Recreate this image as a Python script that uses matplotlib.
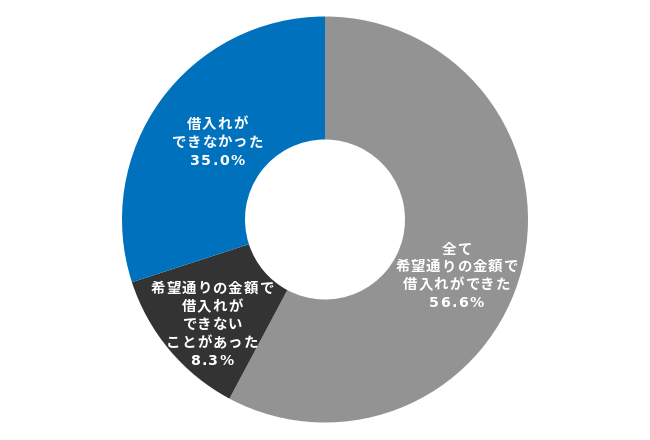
import matplotlib
matplotlib.use("Agg")
import matplotlib.pyplot as plt
from matplotlib.font_manager import FontProperties, findfont, get_font

# wedge shares as drawn in the picture (clockwise from 12 o'clock)
categories = ["全て希望通りの金額で借入れができた", "希望通りの金額で借入れができないことがあった", "借入れができなかった"]
drawn_shares = [57.8, 12.2, 30.0]
label_values = ["56.6%", "8.3%", "35.0%"]
colors = ["#939393", "#333333", "#0071bc"]

label_lines = [
    ["全て", "希望通りの金額で", "借入れができた"],
    ["希望通りの金額で", "借入れが", "できない", "ことがあった"],
    ["借入れが", "できなかった"],
]

W, H = 650, 440
CX, CY = 325, 219.5
R_OUT, R_IN = 203, 80

# label anchor (centre x, first line centre y, line step), image pixels from top
LABEL_POS = [(456.5, 248, 17.7), (212, 287, 18.2), (217, 123, 18)]

JP_TRACK = 1.0
NUM_TRACK = 1.4

fp_jp = FontProperties(family="Noto Sans CJK JP", weight="bold", size=10.4)
fp_num = FontProperties(family="DejaVu Sans", weight="bold", size=10.2)


def advance(ch, fp):
    font = get_font(findfont(fp))
    font.set_size(fp.get_size_in_points(), 100)
    return font.load_char(ord(ch)).linearHoriAdvance / 65536


# draws one line char by char so it gets the letter spacing of the original
def draw_tracked(ax, xc, yc, text, fp, tracking):
    advs = [advance(ch, fp) for ch in text]
    total = sum(advs) + tracking * (len(text) - 1)
    x = xc - total / 2
    base = H - (yc + 5.5)
    for ch, adv in zip(text, advs):
        ax.text(x, base, ch, ha="left", va="baseline", fontproperties=fp, color="white")
        x += adv + tracking


fig = plt.figure(figsize=(W / 100, H / 100), dpi=100)
ax = fig.add_axes([0, 0, 1, 1])
ax.pie(drawn_shares, colors=colors, startangle=90, counterclock=False,
       radius=R_OUT, center=(CX, H - CY),
       wedgeprops=dict(width=R_OUT - R_IN, edgecolor="none", linewidth=0))
ax.set_xlim(0, W)
ax.set_ylim(0, H)
ax.set_aspect("equal")
ax.axis("off")

for lines, value, (xc, y0, step) in zip(label_lines, label_values, LABEL_POS):
    for i, line in enumerate(lines):
        draw_tracked(ax, xc, y0 + i * step, line, fp_jp, JP_TRACK)
    draw_tracked(ax, xc, y0 + len(lines) * step, value, fp_num, NUM_TRACK)

fig.savefig("out.png", dpi=100, facecolor="white")
